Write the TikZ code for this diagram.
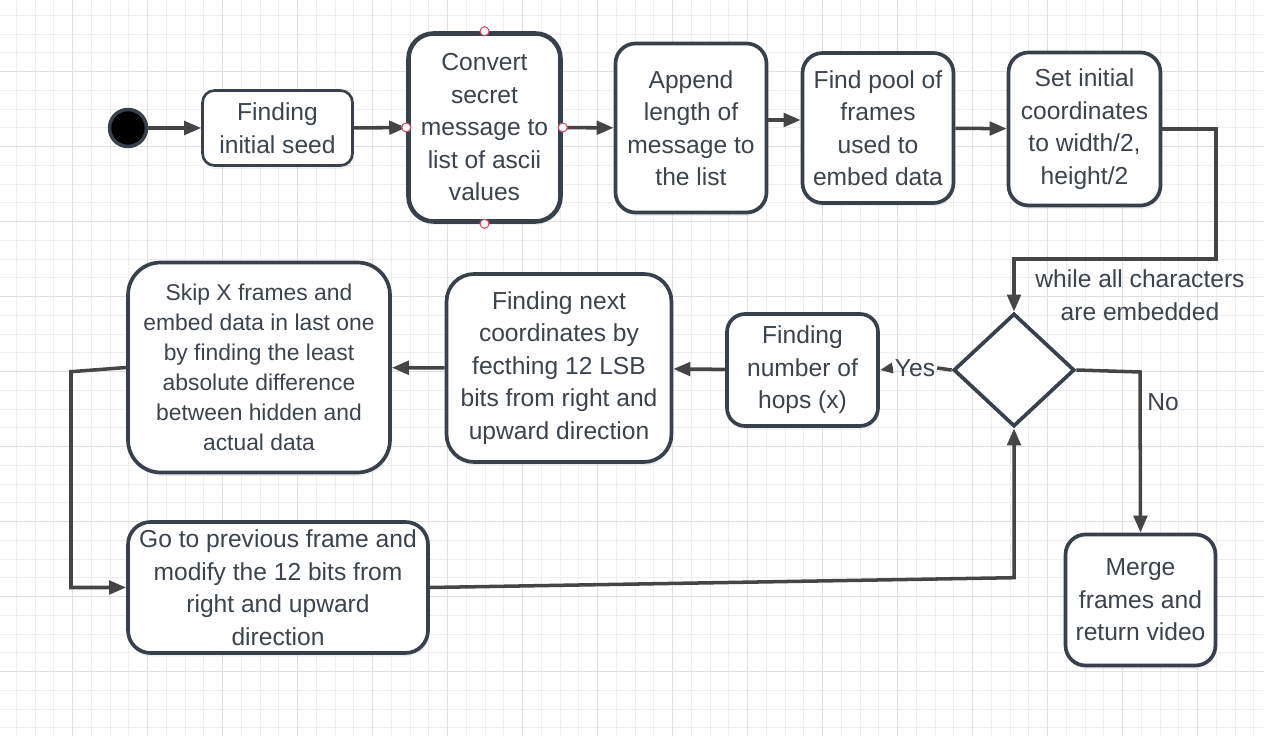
\documentclass[tikz,border=0pt]{standalone}
\usepackage{fontspec}
\setmainfont{Liberation Sans}
\usetikzlibrary{shapes.geometric,arrows.meta,shadows}
\definecolor{edgegray}{HTML}{38414B}
\definecolor{linegray}{HTML}{454545}
\definecolor{txtgray}{HTML}{3B434D}
\definecolor{gridminor}{HTML}{EEEEEE}
\definecolor{gridmajor}{HTML}{DFDFDF}
\definecolor{portred}{HTML}{E2495F}
\begin{document}
\begin{tikzpicture}[x=0.02cm,y=-0.02cm,
    box/.style={draw=edgegray, line width=2.1pt, fill=white, rounded corners=0.4cm,
      align=center, text=txtgray, font=\fontsize{14pt}{18.5pt}\selectfont, inner sep=0pt,
      drop shadow={shadow xshift=0.5pt, shadow yshift=-2pt, opacity=0.12}},
    lbl/.style={text=txtgray, font=\fontsize{14pt}{18.5pt}\selectfont, align=center},
    arr/.style={draw=linegray, line width=2pt, -{Triangle[length=0.34cm,width=0.27cm]}},
    arrsmall/.style={draw=linegray, line width=2pt, -{Triangle[length=0.26cm,width=0.2cm]}},
    link/.style={draw=linegray, line width=2pt},
    port/.style={circle, draw=portred, fill=white, line width=0.6pt, inner sep=0pt, minimum size=0.18cm}]
    % background and grid
    \useasboundingbox (0,0) rectangle (1264,736);
    \fill[white] (0,0) rectangle (1264,736);
    \foreach \i in {0,...,66}
        \draw[gridminor, line width=0.6pt] ({16.45+18.75*\i},0) -- ({16.45+18.75*\i},736);
    \foreach \j in {0,...,38}
        \draw[gridminor, line width=0.6pt] (0,{15.45+18.75*\j}) -- (1264,{15.45+18.75*\j});
    \foreach \i in {3,7,...,63}
        \draw[gridmajor, line width=0.6pt] ({16.45+18.75*\i},0) -- ({16.45+18.75*\i},736);
    \foreach \j in {3,7,...,35}
        \draw[gridmajor, line width=0.6pt] (0,{15.45+18.75*\j}) -- (1264,{15.45+18.75*\j});

    % top row
    \node[circle, fill=black, draw=edgegray, line width=2pt, minimum size=0.74cm, inner sep=0pt] (start) at (128,128) {};
    \node[box, line width=1.5pt, rounded corners=0.24cm, minimum width=3.0cm, minimum height=1.5cm] (seed) at (277.5,128) {Finding\\initial seed};
    \node[box, line width=2.6pt, rounded corners=0.5cm, minimum width=3.04cm, minimum height=3.76cm] (convert) at (484.5,127.5) {Convert\\secret\\message to\\list of ascii\\values};
    \node[box, minimum width=3.02cm, minimum height=3.38cm] (append) at (691,128) {Append\\length of\\message to\\the list};
    \node[box, minimum width=3.02cm, minimum height=3.0cm] (pool) at (878,128) {Find pool of\\frames\\used to\\embed data};
    \node[box, minimum width=3.04cm, minimum height=3.06cm] (init) at (1084.5,129) {Set initial\\coordinates\\to width/2,\\height/2};

    % decision
    \node[diamond, draw=edgegray, line width=2.1pt, fill=white, minimum width=2.42cm, minimum height=2.26cm, inner sep=0pt] (check) at (1014,370) {};
    \node[lbl] (while) at (1140,295) {while all characters\\are embedded};
    \node[lbl, inner sep=1pt] (yes) at (915,368) {Yes};
    \node[lbl] (no) at (1163,402) {No};

    % middle and bottom rows
    \node[box, rounded corners=0.36cm, minimum width=3.02cm, minimum height=2.24cm] (hops) at (802.5,370) {Finding\\number of\\hops (x)};
    \node[box, rounded corners=0.55cm, minimum width=4.5cm, minimum height=3.76cm] (next) at (559,368) {Finding next\\coordinates by\\fecthing 12 LSB\\bits from right and\\upward direction};
    \node[box, font=\fontsize{13pt}{17pt}\selectfont, rounded corners=0.65cm, minimum width=5.24cm, minimum height=4.2cm] (skip) at (259,367.5) {Skip X frames and\\embed data in last one\\by finding the least\\absolute difference\\between hidden and\\actual data};
    \node[box, rounded corners=0.45cm, minimum width=6.0cm, minimum height=2.62cm] (prev) at (278,587.5) {Go to previous frame and\\modify the 12 bits from\\right and upward\\direction};
    \node[box, minimum width=3.0cm, minimum height=2.62cm] (merge) at (1140.5,600) {Merge\\frames and\\return video};

    % bends
    \coordinate (loopright) at (1216,259);
    \coordinate (bendleft) at (71,371.7);
    \coordinate (bendright) at (1014,577.7);
    \coordinate (bendno) at (1140,372);

    % connectors
    \draw[arr] (start) -- (seed);
    \draw[arr] (seed) -- (convert);
    \draw[arr] (convert) -- (append);
    \draw[arr] ([yshift=0.16cm]append.east) -- ([yshift=0.16cm]pool.west);
    \draw[arr] (pool) -- (init);
    \draw[arr] (init.east) -| (loopright) -| (check.north);
    \draw[link] (check.west) -- (yes.east);
    \draw[arrsmall] (yes.west) -- (hops.east);
    \draw[arr] (hops) -- (next);
    \draw[arr] (next) -- (skip);
    \draw[arr] (skip.west) -- (bendleft) |- (prev.west);
    \draw[arr] (prev.east) -- (bendright) -- (check.south);
    \draw[arr] (check.east) -- (bendno) -- (merge.north);

    % ports on the selected shape
    \node[port] (portn) at (convert.north) {};
    \node[port] (ports) at (convert.south) {};
    \node[port] (portw) at (convert.west) {};
    \node[port] (porte) at (convert.east) {};
\end{tikzpicture}
\end{document}
